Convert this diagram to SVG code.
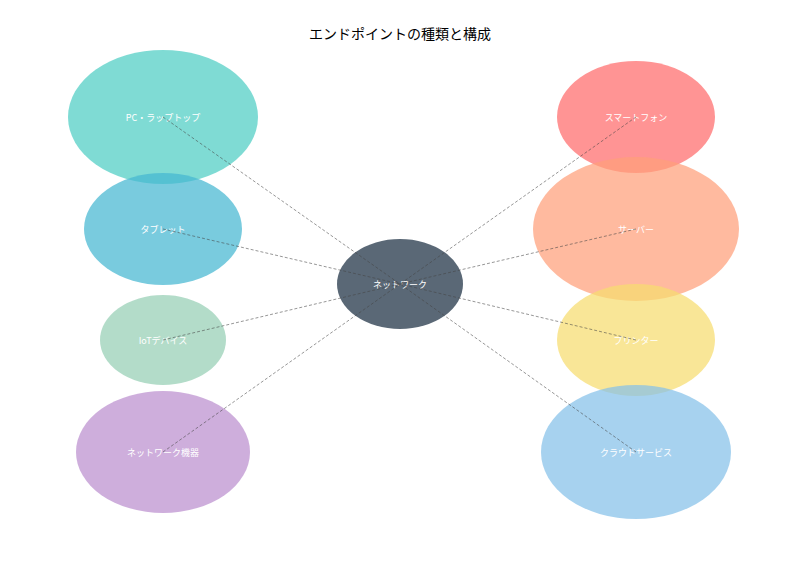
<svg xmlns="http://www.w3.org/2000/svg" width="800" height="570" viewBox="0 0 800 570">
<style>
.n{opacity:0.72}
.t{font-family:"Noto Sans CJK JP","Noto Sans",sans-serif;font-size:9px;fill:#fff;text-anchor:middle;dominant-baseline:central}
.e{stroke:#444;stroke-width:0.7;stroke-dasharray:3,2;fill:none;opacity:0.8}
</style>
<rect width="800" height="570" fill="#fff"/>
<text x="400" y="33" style="font-family:'Noto Sans CJK JP','Noto Sans',sans-serif;font-size:14px;text-anchor:middle;dominant-baseline:central" fill="#000">エンドポイントの種類と構成</text>
<g id="pc"><ellipse class="n" cx="163" cy="117" rx="95" ry="67" fill="#4ecdc4"/><text class="t" x="163" y="117">PC・ラップトップ</text></g>
<g id="tablet"><ellipse class="n" cx="163" cy="229" rx="79" ry="56" fill="#45b7d1"/><text class="t" x="163" y="229">タブレット</text></g>
<g id="iot"><ellipse class="n" cx="163" cy="340" rx="63" ry="45" fill="#96ceb4"/><text class="t" x="163" y="340">IoTデバイス</text></g>
<g id="netdev"><ellipse class="n" cx="163" cy="452" rx="87" ry="61" fill="#bb8fce"/><text class="t" x="163" y="452">ネットワーク機器</text></g>
<g id="phone"><ellipse class="n" cx="636" cy="117" rx="79" ry="56" fill="#ff6b6b"/><text class="t" x="636" y="117">スマートフォン</text></g>
<g id="server"><ellipse class="n" cx="636" cy="229" rx="103" ry="72" fill="#ffa07a"/><text class="t" x="636" y="229">サーバー</text></g>
<g id="printer"><ellipse class="n" cx="636" cy="340" rx="79" ry="56" fill="#f7dc6f"/><text class="t" x="636" y="340">プリンター</text></g>
<g id="cloud"><ellipse class="n" cx="636" cy="452" rx="95" ry="67" fill="#85c1e9"/><text class="t" x="636" y="452">クラウドサービス</text></g>
<g id="network"><ellipse cx="400" cy="284" rx="63" ry="45" fill="#2c3e50" opacity="0.78"/><text class="t" x="400" y="284">ネットワーク</text></g>
<g id="connectors">
<line class="e" x1="163" y1="117" x2="400" y2="284"/>
<line class="e" x1="163" y1="229" x2="400" y2="284"/>
<line class="e" x1="163" y1="340" x2="400" y2="284"/>
<line class="e" x1="163" y1="452" x2="400" y2="284"/>
<line class="e" x1="636" y1="117" x2="400" y2="284"/>
<line class="e" x1="636" y1="229" x2="400" y2="284"/>
<line class="e" x1="636" y1="340" x2="400" y2="284"/>
<line class="e" x1="636" y1="452" x2="400" y2="284"/>
</g>
</svg>
